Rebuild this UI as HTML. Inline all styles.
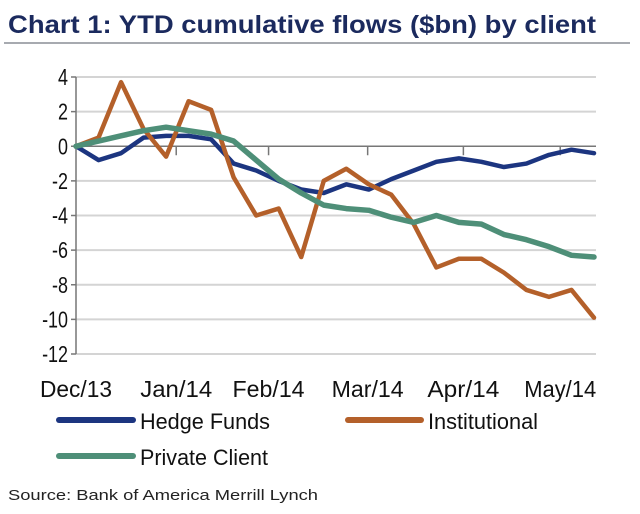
<!DOCTYPE html>
<html><head><meta charset="utf-8"><style>
html,body{margin:0;padding:0;background:#fff;}
svg{display:block;font-family:"Liberation Sans Narrow","Liberation Sans",sans-serif;}
</style></head><body>
<svg id="c" width="640" height="514" viewBox="0 0 640 514">
<text x="8" y="33" font-size="25" font-weight="bold" fill="#1b2a5e" textLength="588" lengthAdjust="spacingAndGlyphs">Chart 1: YTD cumulative flows ($bn) by client</text>
<line x1="4" y1="43" x2="630" y2="43" stroke="#8a8d96" stroke-width="1.5"/>
<g id="grid"></g>
<g id="yl"></g>
<g id="xl"></g>
<g id="lines"></g>
<g>
<line x1="59" y1="420" x2="133" y2="420" stroke="#1c3580" stroke-width="6" stroke-linecap="round"/>
<text x="140" y="429" font-size="22" fill="#111" textLength="130" lengthAdjust="spacingAndGlyphs">Hedge Funds</text>
<line x1="348" y1="420" x2="421" y2="420" stroke="#b4602a" stroke-width="6" stroke-linecap="round"/>
<text x="428" y="429" font-size="22" fill="#111" textLength="110" lengthAdjust="spacingAndGlyphs">Institutional</text>
<line x1="59" y1="456" x2="133" y2="456" stroke="#4e8f78" stroke-width="6" stroke-linecap="round"/>
<text x="140" y="465" font-size="22" fill="#111" textLength="128" lengthAdjust="spacingAndGlyphs">Private Client</text>
</g>
<text x="8" y="500" font-size="15" fill="#222" textLength="310" lengthAdjust="spacingAndGlyphs">Source: Bank of America Merrill Lynch</text>
</svg>
<script>
const yTicks=[4,2,0,-2,-4,-6,-8,-10,-12];
const xTickLabels=["Dec/13","Jan/14","Feb/14","Mar/14","Apr/14","May/14"];
const xTickIdx=[0,4.45,8.55,12.95,17.2,21.5];
const hedgeFunds=[0,-0.8,-0.4,0.5,0.6,0.6,0.4,-1.0,-1.4,-2.0,-2.5,-2.7,-2.2,-2.5,-1.9,-1.4,-0.9,-0.7,-0.9,-1.2,-1.0,-0.5,-0.2,-0.4];
const institutional=[0,0.5,3.7,1.0,-0.6,2.6,2.1,-1.8,-4.0,-3.6,-6.4,-2.0,-1.3,-2.2,-2.8,-4.5,-7.0,-6.5,-6.5,-7.3,-8.3,-8.7,-8.3,-9.9];
const privateClient=[0,0.3,0.6,0.9,1.1,0.9,0.7,0.3,-0.8,-1.9,-2.7,-3.4,-3.6,-3.7,-4.1,-4.4,-4.0,-4.4,-4.5,-5.1,-5.4,-5.8,-6.3,-6.4];
const NS="http://www.w3.org/2000/svg";
const X0=76,X1=594,Y4=77,Ym12=354;
const n=hedgeFunds.length;
function xs(i){return X0+i*(X1-X0)/(n-1);}
function ys(v){return Y4+(4-v)*(Ym12-Y4)/16;}
function mk(t,a,p){const e=document.createElementNS(NS,t);for(const k in a)e.setAttribute(k,a[k]);p.appendChild(e);return e;}
const grid=document.getElementById('grid'),yl=document.getElementById('yl'),xl=document.getElementById('xl'),lines=document.getElementById('lines');
yTicks.forEach(v=>{
  const l=mk('line',{x1:X0,x2:X1+2,y1:ys(v),y2:ys(v),stroke:v===0?'#777':'#d4d4d4','stroke-width':v===0?1.5:2},grid);
  
  
  const tk=mk('line',{x1:X0-5,x2:X0,y1:ys(v),y2:ys(v),stroke:'#777','stroke-width':1.5},grid);
  
  
  const t=mk('text',{transform:'translate(68,'+(ys(v)+8)+') scale(0.78,1)','font-size':23,'text-anchor':'end',fill:'#111'},yl);
  t.textContent=String(v);
  
  
});
const ax=mk('line',{x1:X0,x2:X0,y1:Y4,y2:Ym12,stroke:'#777','stroke-width':1.5},grid);


xTickLabels.forEach((s,k)=>{
  const x=xs(xTickIdx[k]);
  if(k>0){const tk=mk('line',{x1:x,x2:x,y1:ys(0),y2:ys(0)+9,stroke:'#777','stroke-width':1.5},grid);
  
  }
  const t=mk('text',{x:x,y:397,'font-size':23,'text-anchor':'middle',fill:'#111',textLength:72,lengthAdjust:'spacingAndGlyphs'},xl);
  t.textContent=s;
  
  
});
function draw(arr,color,name,w){
  const p=mk('polyline',{points:arr.map((v,i)=>xs(i)+','+ys(v)).join(' '),fill:'none',stroke:color,'stroke-width':w,'stroke-linejoin':'round','stroke-linecap':'round'},lines);
  
  
}
draw(hedgeFunds,'#1c3580','line-hedge-funds',4.5);
draw(institutional,'#b4602a','line-institutional',4.5);
draw(privateClient,'#4e8f78','line-private-client',5.5);
</script>
</body></html>
